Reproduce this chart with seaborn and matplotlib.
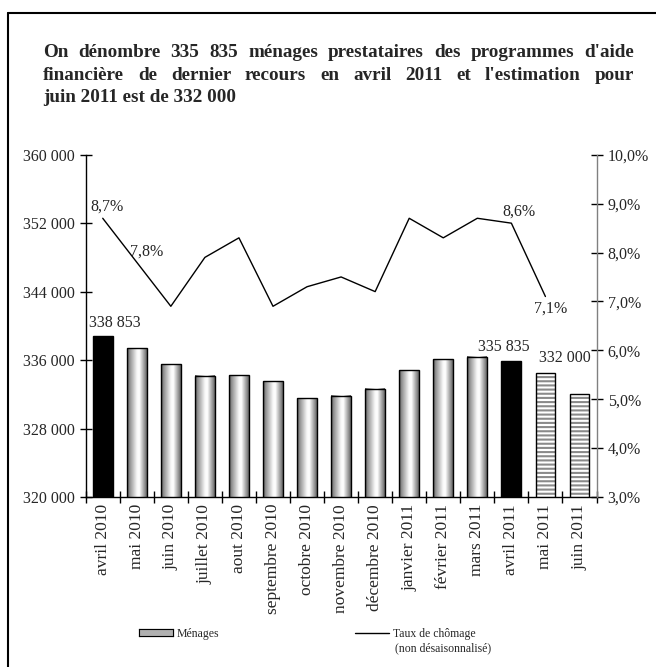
import numpy as np
import matplotlib
matplotlib.use("Agg")
import matplotlib.pyplot as plt
import seaborn as sns
from matplotlib.patches import Rectangle
from matplotlib.lines import Line2D
from matplotlib.ticker import FuncFormatter

# Données
mois = ["avril 2010", "mai 2010", "juin 2010", "juillet 2010", "aout 2010",
        "septembre 2010", "octobre 2010", "novembre 2010", "décembre 2010",
        "janvier 2011", "février 2011", "mars 2011", "avril 2011",
        "mai 2011", "juin 2011"]
menages = [338853, 337400, 335500, 334150, 334250, 333500, 331550, 331850,
           332650, 334800, 336100, 336400, 335835, 334450, 332000]
taux = [8.7, 7.8, 6.9, 7.9, 8.3, 6.9, 7.3, 7.5, 7.2, 8.7, 8.3, 8.7, 8.6, 7.1]

barres_noires = [0, 12]
barres_estimees = [13, 14]

titre_lignes = [
    "On dénombre 335 835 ménages prestataires des programmes d'aide",
    "financière de dernier recours en avril 2011 et l'estimation pour",
    "juin 2011 est de 332 000",
]

W, H = 656, 667

sns.set_style("ticks")
plt.rcParams["font.family"] = ["Liberation Serif", "DejaVu Serif"]
plt.rcParams["hatch.linewidth"] = 1.5


def degrade(n=80):
    pos = np.linspace(0, 1, n)
    return np.interp(pos, [0, 0.12, 0.5, 0.62, 1], [0.3, 0.55, 0.97, 1.0, 0.4])[None, :]


def milliers(v, _=None):
    return f"{int(round(v)):,}".replace(",", " ")


def pourcent(v, _=None):
    return f"{v:.1f}%".replace(".", ",")


fig = plt.figure(figsize=(W / 100, H / 100), dpi=100)
ax = fig.add_axes([85.7 / W, 1 - 497 / H, (596.5 - 85.7) / W, (497 - 154.7) / H])

sns.barplot(x=mois, y=menages, ax=ax, color="white", width=0.58,
            edgecolor="black", linewidth=1.0, saturation=1)

for i, bar in enumerate(ax.patches):
    x0, w, h = bar.get_x(), bar.get_width(), bar.get_height()
    if i in barres_noires:
        bar.set_facecolor("black")
    elif i in barres_estimees:
        bar.set_facecolor("white")
        bar.set_edgecolor("#8a8a8a")
        bar.set_hatch("----")
        bar.set_linewidth(0)
        ax.add_patch(Rectangle((x0, 0), w, h, fill=False, edgecolor="black",
                               lw=1.0, zorder=bar.get_zorder() + 0.1))
    else:
        bar.set_facecolor("none")
        ax.imshow(degrade(), extent=(x0, x0 + w, 0, h), aspect="auto",
                  cmap="gray", vmin=0, vmax=1, zorder=bar.get_zorder() - 0.1)

ax.set_xlim(-0.5, len(mois) - 0.5)
ax.set_ylim(320000, 360000)
ax.set_yticks(range(320000, 360001, 8000))
ax.yaxis.set_major_formatter(FuncFormatter(milliers))
ax.set_xticks(range(len(mois)))
ax.set_xticklabels(mois, rotation=90)
ax.set_xticks(np.arange(-0.5, len(mois)), minor=True)
ax.tick_params(axis="x", which="major", length=0, pad=5, labelsize=12.5)
ax.tick_params(axis="x", which="minor", direction="inout", length=8, width=1, color="black")
ax.tick_params(axis="y", direction="inout", length=8, width=1, color="black",
               labelsize=11.5, pad=4)
ax.set_xlabel("")
ax.set_ylabel("")
for s in ["top", "right"]:
    ax.spines[s].set_visible(False)
for s in ["left", "bottom"]:
    ax.spines[s].set_color("black")
    ax.spines[s].set_linewidth(1.0)

# étiquettes des barres
etiquettes_barres = {0: (12, 9), 12: (-8, 10), 14: (-15, 32)}
for i, (dx, dy) in etiquettes_barres.items():
    ax.annotate(milliers(menages[i]), (i, menages[i]), xytext=(dx, dy),
                textcoords="offset pixels", ha="center", va="baseline", fontsize=11.5)

# taux de chômage
ax2 = ax.twinx()
sns.lineplot(x=np.arange(len(taux)), y=taux, ax=ax2, color="black", linewidth=1.0)
ax2.set_ylim(3, 10)
ax2.set_yticks(range(3, 11))
ax2.yaxis.set_major_formatter(FuncFormatter(pourcent))
ax2.tick_params(axis="y", direction="inout", length=8, width=1, color="black",
                labelsize=11.5, pad=4)
ax2.set_ylabel("")
for s in ["top", "left", "bottom"]:
    ax2.spines[s].set_visible(False)
ax2.spines["right"].set_color("#808080")
ax2.spines["right"].set_linewidth(1.0)

etiquettes_taux = {0: (4, 8), 1: (10, 7), 12: (8, 8), 13: (5, -16)}
for i, (dx, dy) in etiquettes_taux.items():
    ax2.annotate(pourcent(taux[i]), (i, taux[i]), xytext=(dx, dy),
                 textcoords="offset pixels", ha="center", va="baseline", fontsize=11.5)

# titre justifié
renderer = fig.canvas.get_renderer()
x_gauche, x_droite = 43, 634
bases = [57, 80, 102]
taille_titre = 13.8
for k, ligne in enumerate(titre_lignes):
    y = 1 - bases[k] / H
    if k == len(titre_lignes) - 1:
        fig.text(x_gauche / W, y, ligne, fontsize=taille_titre, fontweight="bold",
                 va="baseline", ha="left")
        continue
    mots = ligne.split(" ")
    textes = [fig.text(0, y, m, fontsize=taille_titre, fontweight="bold",
                       va="baseline", ha="left") for m in mots]
    largeurs = [t.get_window_extent(renderer).width for t in textes]
    ecart = (x_droite - x_gauche - sum(largeurs)) / (len(mots) - 1)
    x = x_gauche
    for t, l in zip(textes, largeurs):
        t.set_x(x / W)
        x += l + ecart

# cadre
fig.add_artist(Line2D([8 / W, 8 / W], [0, 1 - 13 / H], transform=fig.transFigure,
                      color="black", lw=1.5))
fig.add_artist(Line2D([8 / W, 1], [1 - 13 / H, 1 - 13 / H], transform=fig.transFigure,
                      color="black", lw=1.5))

# légende
poignees = [Rectangle((0, 0), 1, 1, facecolor="#b0b0b0", edgecolor="black", lw=0.8),
            Line2D([], [], color="black", lw=1.0)]
leg = fig.legend(poignees, ["Ménages", "Taux de chômage"], loc="center left",
                 bbox_to_anchor=(139 / W, 1 - 634 / H), ncol=2, frameon=False,
                 fontsize=8.5, handlelength=2.9, handleheight=0.5, handletextpad=0.3,
                 columnspacing=11.5, borderpad=0, borderaxespad=0)
fig.canvas.draw()
bb = leg.get_texts()[1].get_window_extent(renderer)
fig.text((bb.x0 + 2) / W, (bb.y0 - 2) / H, "(non désaisonnalisé)", fontsize=8.5,
         ha="left", va="top")
pb = leg.get_patches()[0].get_window_extent(renderer)
axg = fig.add_axes([pb.x0 / W, pb.y0 / H, pb.width / W, pb.height / H])
axg.imshow(degrade(), aspect="auto", cmap="gray", vmin=0, vmax=1)
axg.set_xticks([])
axg.set_yticks([])
for s in axg.spines.values():
    s.set_color("black")
    s.set_linewidth(0.8)

fig.savefig("out.png", dpi=100)
